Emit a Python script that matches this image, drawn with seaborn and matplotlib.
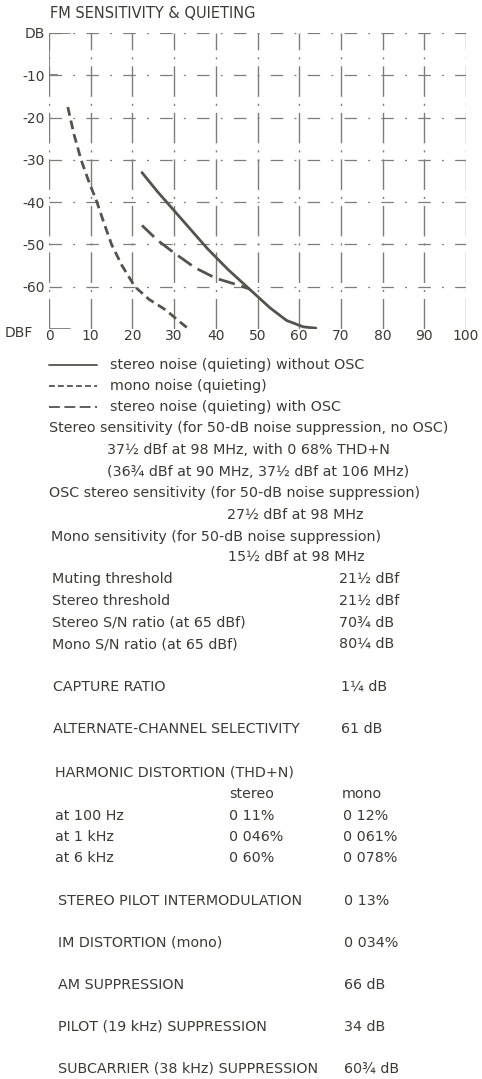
import numpy as np
import pandas as pd
import matplotlib
matplotlib.use("Agg")
import matplotlib.pyplot as plt
import seaborn as sns

# ---- quieting curves (dBf in, dB noise out) ----
stereo_x = [22.3, 26, 30, 34, 38, 43, 48, 53, 57, 61, 64]
stereo_y = [-33, -37.5, -42, -46.5, -51, -56, -60.5, -65, -68, -69.5, -69.8]
mono_x = [4.5, 6, 7.7, 9.5, 11.5, 13.2, 15, 17.5, 20.6, 24, 28, 31, 33.5]
mono_y = [-17.5, -24, -30, -35, -40, -45, -50, -55, -60, -63, -65.5, -68, -70]
osc_x = [22.3, 26, 30, 35, 40, 45, 48]
osc_y = [-45.5, -49, -52, -55.5, -58, -59.5, -60.5]

series_names = ["stereo noise (quieting) without OSC",
                "mono noise (quieting)",
                "stereo noise (quieting) with OSC"]

x_ticks = [0, 10, 20, 30, 40, 50, 60, 70, 80, 90, 100]
y_ticks = [0, -10, -20, -30, -40, -50, -60]
y_tick_labels = ["DB", "-10", "-20", "-30", "-40", "-50", "-60"]

# ---- specification table ----
sens_lines = [
    "Stereo sensitivity (for 50-dB noise suppression, no OSC)",
    "37½ dBf at 98 MHz, with 0 68% THD+N",
    "(36¾ dBf at 90 MHz, 37½ dBf at 106 MHz)",
    "OSC stereo sensitivity (for 50-dB noise suppression)",
    "27½ dBf at 98 MHz",
    "Mono sensitivity (for 50-dB noise suppression)",
    "15½ dBf at 98 MHz",
]
spec_labels = ["Muting threshold", "Stereo threshold",
               "Stereo S/N ratio (at 65 dBf)", "Mono S/N ratio (at 65 dBf)"]
spec_values = ["21½ dBf", "21½ dBf", "70¾ dB", "80¼ dB"]
headline_labels = ["CAPTURE RATIO", "ALTERNATE-CHANNEL SELECTIVITY"]
headline_values = ["1¼ dB", "61 dB"]
thd_freqs = ["at 100 Hz", "at 1 kHz", "at 6 kHz"]
thd_stereo = ["0 11%", "0 046%", "0 60%"]
thd_mono = ["0 12%", "0 061%", "0 078%"]
tail_labels = ["STEREO PILOT INTERMODULATION", "IM DISTORTION (mono)",
               "AM SUPPRESSION", "PILOT (19 kHz) SUPPRESSION",
               "SUBCARRIER (38 kHz) SUPPRESSION"]
tail_values = ["0 13%", "0 034%", "66 dB", "34 dB", "60¾ dB"]

W, H = 482, 1079
INK = "#3b3b36"
CURVE = "#54544c"
GRID = "#7e7e78"

sns.set_theme(style="white")
plt.rcParams["font.family"] = ["DejaVu Sans"]

fig = plt.figure(figsize=(W / 100, H / 100), dpi=100)
fig.patch.set_facecolor("white")


def fy(py):
    return 1 - py / H


def fx(px):
    return px / W


ax_l, ax_r, ax_t, ax_b = 49, 466, 33, 329
ax = fig.add_axes([fx(ax_l), fy(ax_b), fx(ax_r) - fx(ax_l), fy(ax_t) - fy(ax_b)])

df = pd.concat([
    pd.DataFrame({"dBf": stereo_x, "dB": stereo_y, "curve": series_names[0]}),
    pd.DataFrame({"dBf": mono_x, "dB": mono_y, "curve": series_names[1]}),
    pd.DataFrame({"dBf": osc_x, "dB": osc_y, "curve": series_names[2]}),
])
dash_map = {series_names[0]: "", series_names[1]: (3.2, 1.8),
            series_names[2]: (6, 2.5)}
sns.lineplot(data=df, x="dBf", y="dB", hue="curve", style="curve",
             palette=[CURVE] * 3, dashes=dash_map, linewidth=2.0,
             sort=False, legend=False, ax=ax, zorder=3)

ax.set_xlim(0, 100)
ax.set_ylim(-70, 0)
ax.set_xticks(x_ticks)
ax.set_yticks(y_ticks)
ax.set_yticklabels(y_tick_labels)
ax.set_xticklabels([str(v) for v in x_ticks])
ax.tick_params(axis="both", length=0, labelsize=10, colors=INK)
ax.tick_params(axis="x", pad=0)
ax.tick_params(axis="y", pad=3)
ax.set_xlabel("")
ax.set_ylabel("")
for s in ax.spines.values():
    s.set_visible(False)
# broken, faded grid: long vertical strokes, sparse horizontal ones
ax.grid(True, axis="x", color=GRID, linewidth=1.0,
        linestyle=(0, (22, 5, 1.5, 5)))
ax.grid(True, axis="y", color=GRID, linewidth=0.9,
        linestyle=(0, (10, 9, 1.5, 9)))
ax.plot([0, 0], [0, -10], color=GRID, lw=1.3, zorder=2)
ax.plot([0, 2], [-10, -10], color=GRID, lw=1.3, zorder=2)
ax.plot([0, 5], [-70, -70], color=GRID, lw=1.3, zorder=2)
ax.plot([0, 5], [0, 0], color=GRID, lw=1.3, zorder=2)

fig.text(fx(50), fy(14), "FM SENSITIVITY & QUIETING", fontsize=10.5,
         color=INK, va="center", ha="left")
fig.text(fx(5), fy(333), "DBF", fontsize=10, color=INK, va="center", ha="left")

FS = 10.3


def put(px, py, s, ha="left", fs=FS):
    fig.text(fx(px), fy(py), s, fontsize=fs, color=INK, va="center", ha=ha)


# legend samples
leg_y = [365, 386, 407]
for name, ly in zip(series_names, leg_y):
    dashes = dash_map[name]
    line = matplotlib.lines.Line2D([fx(49), fx(97)], [fy(ly), fy(ly)],
                                   transform=fig.transFigure, color=CURVE,
                                   lw=1.3)
    if dashes:
        line.set_dashes(dashes)
    fig.add_artist(line)
    put(110, ly, name)

sens_pos = [(49, 428), (107, 450), (107, 472), (49, 493), (227, 515),
            (51, 537), (228, 557)]
for s, (px, py) in zip(sens_lines, sens_pos):
    put(px, py, s)

for i, (lab, val) in enumerate(zip(spec_labels, spec_values)):
    py = 579 + i * 21.7
    put(52, py, lab)
    put(339, py, val)

for lab, val, py in zip(headline_labels, headline_values, [687, 729]):
    put(53, py, lab)
    put(341, py, val)

put(55, 773, "HARMONIC DISTORTION (THD+N)")
put(229, 794, "stereo")
put(342, 794, "mono")
for i, (f, s, m) in enumerate(zip(thd_freqs, thd_stereo, thd_mono)):
    py = 816 + i * 21
    put(55, py, f)
    put(229, py, s)
    put(343, py, m)

for i, (lab, val) in enumerate(zip(tail_labels, tail_values)):
    py = 901 + i * 42
    put(58, py, lab)
    put(344, py, val)

fig.savefig("out.png", dpi=100, facecolor="white")
